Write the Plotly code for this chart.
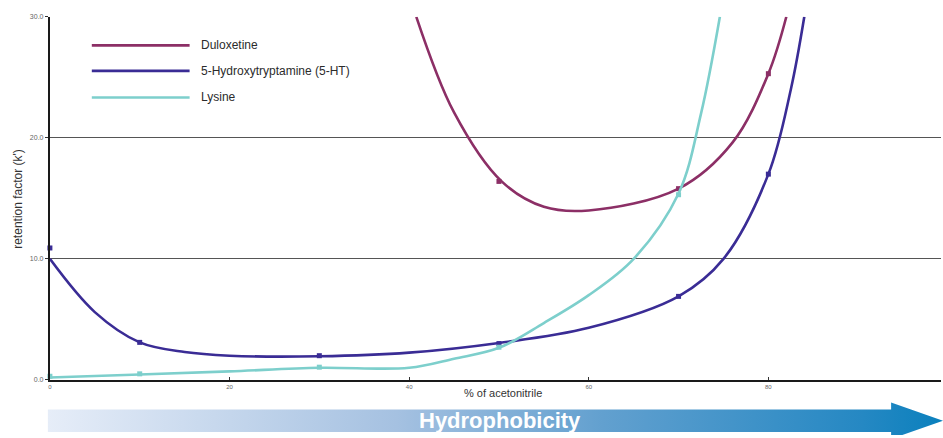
import plotly.graph_objects as go

# ---- data -------------------------------------------------------------
series_names = ["Duloxetine", "5-Hydroxytryptamine (5-HT)", "Lysine"]
series_colors = ["#8c2f66", "#3a2c95", "#7dcfcc"]

# measured retention factors (markers)
dulox_x = [50, 70, 80]
dulox_k = [16.4, 15.8, 25.3]
ht_x = [0, 10, 30, 50, 70, 80]
ht_k = [10.9, 3.1, 2.0, 3.0, 6.9, 17.0]
lys_x = [0, 10, 30, 50, 70]
lys_k = [0.3, 0.5, 1.05, 2.7, 15.3]

# fitted trend curves
dulox_fit_x = [40.8, 45.0, 50.3, 55.0, 60.0, 70.0, 76.0, 80.0, 82.0]
dulox_fit_k = [30.0, 22.1, 16.4, 14.3, 14.0, 15.8, 19.6, 25.3, 30.0]
ht_fit_x = [0, 5, 10, 15, 20, 30, 40, 50, 60, 70, 75, 80, 82.5, 84]
ht_fit_k = [10.0, 5.6, 3.1, 2.3, 2.0, 1.95, 2.25, 3.05, 4.3, 6.9, 10.0, 17.0, 24.0, 30.0]
lys_fit_x = [0, 10, 20, 30, 40, 45, 50, 55, 60, 65, 70, 72.5, 74.6]
lys_fit_k = [0.2, 0.45, 0.7, 1.0, 1.0, 1.75, 2.65, 4.7, 7.0, 10.0, 15.4, 22.0, 30.0]

y_ticks = [0, 10, 20, 30]
x_ticks = [0, 20, 40, 60, 80]

# ---- page geometry ----------------------------------------------------
W, H = 943, 438
FONT = "Liberation Sans, Arial, Helvetica, sans-serif"


def px(x):
    return x / W


def py(y):
    return (H - y) / H


fig = go.Figure()

fits = [(dulox_fit_x, dulox_fit_k), (ht_fit_x, ht_fit_k), (lys_fit_x, lys_fit_k)]
points = [(dulox_x, dulox_k), (ht_x, ht_k), (lys_x, lys_k)]

for name, color, (fx, fk), (mx, mk) in zip(series_names, series_colors, fits, points):
    fig.add_trace(go.Scatter(
        x=fx, y=fk, mode="lines", name=name,
        line=dict(color=color, width=2.6, shape="spline", smoothing=1.0),
        showlegend=False, hoverinfo="skip",
    ))
    fig.add_trace(go.Scatter(
        x=mx, y=mk, mode="markers", name=name,
        marker=dict(symbol="square", size=5, color=color),
        cliponaxis=False, showlegend=False,
    ))

# Hydrophobicity arrow (pixel coordinates on helper axes)
arrow_x = [46, 891, 891, 943, 891, 891, 46, 46]
arrow_y = [412, 412, 405, 423.5, 442, 435, 435, 412]
fig.add_trace(go.Scatter(
    x=arrow_x, y=arrow_y, xaxis="x2", yaxis="y2",
    mode="lines", line=dict(width=0), fill="toself",
    fillgradient=dict(
        type="horizontal",
        colorscale=[[0, "#e6edf8"], [0.39, "#a5c1e1"], [0.62, "#62a0cf"],
                    [0.91, "#2588c3"], [1, "#0a80bd"]],
    ),
    showlegend=False, hoverinfo="skip",
))

# legend drawn as line samples + labels
shapes = []
annotations = []
for i, (name, color) in enumerate(zip(series_names, series_colors)):
    yy = [42, 68, 95][i]
    shapes.append(dict(type="line", xref="paper", yref="paper",
                       x0=px(90), x1=px(188), y0=py(yy), y1=py(yy),
                       line=dict(color=color, width=2.6)))
    annotations.append(dict(text=name, xref="paper", yref="paper",
                            x=px(197), y=py(yy), xanchor="left", yanchor="middle",
                            showarrow=False, font=dict(family=FONT, size=12, color="#2b2b2b")))

annotations += [
    dict(text="retention factor (k')", xref="paper", yref="paper",
         x=px(16), y=py(198), textangle=-90, showarrow=False,
         xanchor="center", yanchor="middle",
         font=dict(family=FONT, size=12, color="#333333")),
    dict(text="% of acetonitrile", xref="paper", yref="paper",
         x=px(502), y=py(395), showarrow=False, xanchor="center", yanchor="middle",
         font=dict(family=FONT, size=11, color="#333333")),
    dict(text="<b>Hydrophobicity</b>", xref="paper", yref="paper",
         x=px(499), y=py(423), showarrow=False, xanchor="center", yanchor="middle",
         font=dict(family=FONT, size=22, color="#ffffff")),
]

fig.update_layout(
    width=W, height=H,
    margin=dict(l=0, r=0, t=0, b=0),
    paper_bgcolor="white", plot_bgcolor="rgba(0,0,0,0)",
    showlegend=False,
    shapes=shapes, annotations=annotations,
    xaxis=dict(
        domain=[px(48), px(941)], range=[0, 893 / 9],
        tickvals=x_ticks, ticktext=[str(v) for v in x_ticks],
        ticks="inside", ticklen=3, tickcolor="#333333", tickwidth=1,
        tickfont=dict(family=FONT, size=6, color="#666666"),
        showline=True, linecolor="#1a1a1a", linewidth=2,
        showgrid=False, zeroline=False, fixedrange=True,
    ),
    yaxis=dict(
        domain=[py(382), py(13)], range=[0, 30],
        tickvals=y_ticks, ticktext=[f"{v:.1f}" for v in y_ticks],
        ticks="outside", ticklen=3, tickcolor="#333333", tickwidth=1,
        tickfont=dict(family=FONT, size=7, color="#666666"),
        showline=True, linecolor="#1a1a1a", linewidth=2,
        showgrid=True, gridcolor="#555555", gridwidth=1,
        zeroline=False, fixedrange=True,
    ),
    xaxis2=dict(domain=[0, 1], range=[0, W], visible=False, anchor="y2", fixedrange=True),
    yaxis2=dict(domain=[0, py(382)], range=[H, 382], visible=False, anchor="x2", fixedrange=True),
)

fig.write_html("out.html")
